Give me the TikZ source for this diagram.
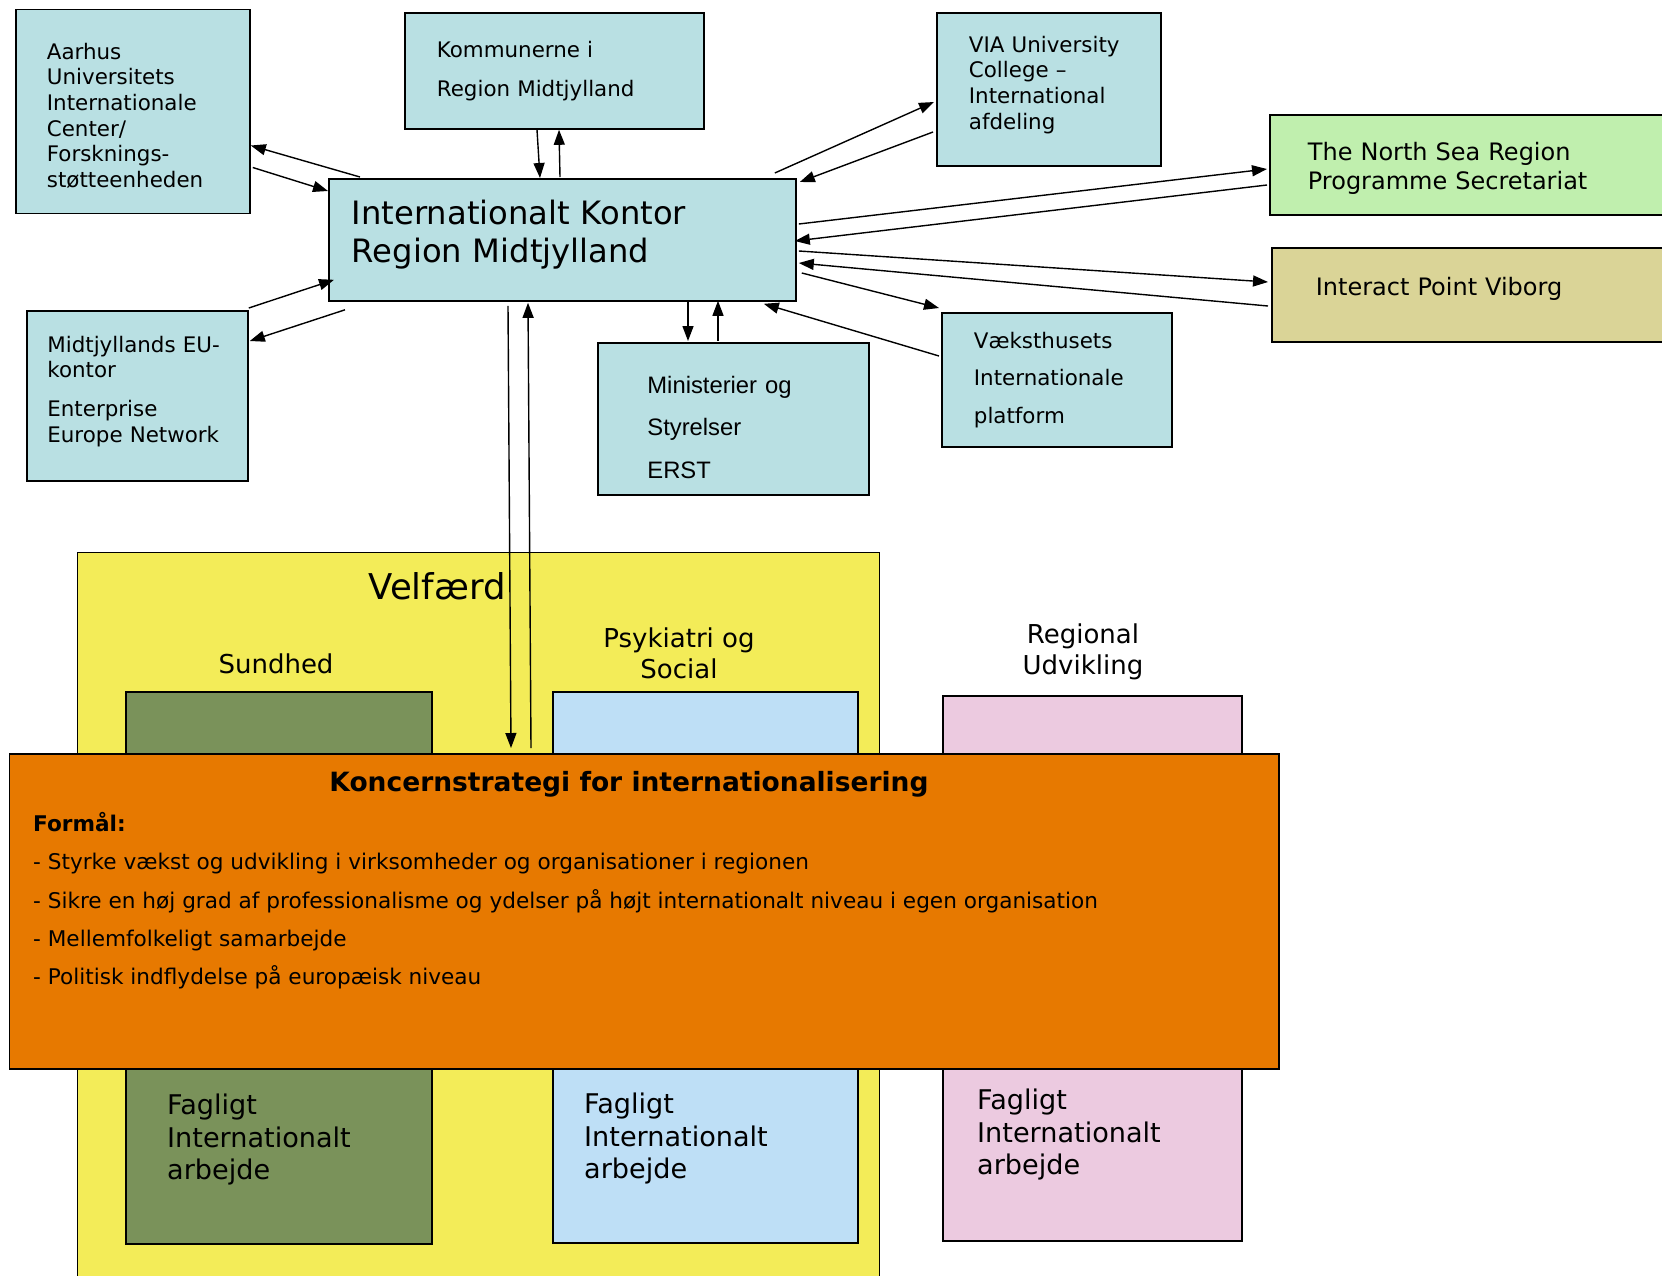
\documentclass[tikz,border=0pt]{standalone}
\usepackage{fontspec}
\setmainfont{DejaVu Sans}
\newfontfamily\arialfont{Liberation Sans}
\usepackage{tikz}
\usepackage{xcolor}
\usetikzlibrary{arrows.meta,calc}
\definecolor{boxblue}{HTML}{B9E0E3}
\definecolor{seagreen}{HTML}{C0EFAE}
\definecolor{interkhaki}{HTML}{DAD497}
\definecolor{velfyellow}{HTML}{F3EC58}
\definecolor{sundgreen}{HTML}{7A925A}
\definecolor{psykblue}{HTML}{BEDFF6}
\definecolor{regpink}{HTML}{ECCAE0}
\definecolor{strategyorange}{HTML}{E77900}
\tikzset{
    plain-box/.style = {draw=black, line width=1.8pt, rectangle, anchor=north west, align=left, inner ysep=0pt},
    info-box/.style = {plain-box, fill=boxblue, font=\fontsize{21.4}{25.7}\selectfont},
    area-box/.style = {plain-box, inner sep=0pt},
    head-text/.style = {align=center, font=\fontsize{26}{31}\selectfont},
    fag-text/.style = {anchor=north west, align=left, inner sep=0pt, font=\fontsize{27.1}{32.3}\selectfont},
    link/.style = {line width=1.4pt, -{Triangle[length=15pt,width=11pt]}},
}
\begin{document}
\begin{tikzpicture}[x=1pt, y=-1pt]
\useasboundingbox (0,0) rectangle (1662,1275);
\clip (0,0) rectangle (1662,1275);

\node[info-box, inner xsep=31pt, text width=172pt, minimum height=204pt] (aarhus) at (15,8.5)
    {\mbox{}\\[-1pt]Aarhus\\Universitets\\Internationale\\Center/\\Forsknings-\\støtteenheden};
\node[info-box, inner xsep=32pt, text width=235pt, minimum height=116pt] (kommune) at (404,12)
    {Kommunerne i\\[13pt]Region Midtjylland};
\node[info-box, inner xsep=32pt, text width=160pt, minimum height=153pt] (via) at (936,12)
    {VIA University\\College --\\International\\afdeling\\[-12.3pt]\mbox{}};
\node[info-box, fill=seagreen, inner xsep=38pt, text width=360pt, minimum height=100pt, font=\fontsize{24}{28.6}\selectfont] (northsea) at (1269,114)
    {\mbox{}\\[-4pt]The North Sea Region\\Programme Secretariat};
\node[info-box, fill=interkhaki, inner xsep=44pt, text width=350pt, minimum height=94pt, font=\fontsize{24}{28.6}\selectfont] (interact) at (1271,247)
    {Interact Point Viborg\\[-12.3pt]\mbox{}};
\node[info-box, inner xsep=23pt, text width=421pt, minimum height=122pt, font=\fontsize{32.2}{38}\selectfont] (ik) at (328,178)
    {Internationalt Kontor\\Region Midtjylland\\[-19.8pt]\mbox{}};
\node[info-box, inner xsep=20.5pt, text width=180pt, minimum height=170pt] (eu) at (26,310)
    {Midtjyllands EU-\\kontor\\[13pt]Enterprise\\Europe Network\\[-12.3pt]\mbox{}};
\node[info-box, inner xsep=49.5pt, text width=172pt, minimum height=152pt, font=\arialfont\fontsize{23.8}{28.8}\selectfont] (minist) at (597,342)
    {\mbox{}\\[5.6pt]Ministerier og\\[14pt]Styrelser\\[14pt]ERST};
\node[info-box, inner xsep=32pt, text width=166pt, minimum height=134pt] (vaekst) at (941,312)
    {Væksthusets\\[12pt]Internationale\\[12pt]platform};

\node[area-box, fill=velfyellow, line width=1.4pt, minimum width=802pt, minimum height=760pt] (velfaerd) at (77,552) {};
\node[area-box, fill=sundgreen, minimum width=306pt, minimum height=552pt] (sundhed) at (125,691) {};
\node[area-box, fill=psykblue, minimum width=305pt, minimum height=551pt] (psyk) at (552,691) {};
\node[area-box, fill=regpink, minimum width=299pt, minimum height=545pt] (regional) at (942,695) {};
\node[font=\fontsize{35.5}{40}\selectfont] at (437,586) {Velfærd};
\node[head-text] at (276,664) {Sundhed};
\node[head-text] at (679,653) {Psykiatri og\\Social};
\node[head-text] at (1083,652) {Regional\\Udvikling};
\node[fag-text] at (167,1094) {Fagligt\\Internationalt\\arbejde};
\node[fag-text] at (584,1093) {Fagligt\\Internationalt\\arbejde};
\node[fag-text] at (977,1089) {Fagligt\\Internationalt\\arbejde};

\node[area-box, fill=strategyorange, minimum width=1269.5pt, minimum height=315pt] (strategi) at (8.5,753) {};
\node[font=\bfseries\fontsize{26.5}{30}\selectfont] at ($(strategi.north west)+(620.5,31)$) {Koncernstrategi for internationalisering};
\node[anchor=north west, align=left, inner sep=0pt, font=\fontsize{21.6}{38.3}\selectfont] at ($(strategi.north west)+(24.5,59)$)
    {\textbf{Formål:}\\- Styrke vækst og udvikling i virksomheder og organisationer i regionen\\- Sikre en høj grad af professionalisme og ydelser på højt internationalt niveau i egen organisation\\- Mellemfolkeligt samarbejde\\- Politisk indflydelse på europæisk niveau};

\draw[link] ($(ik.north west)+(32,-1)$) -- ($(aarhus.north east)+(0,137)$);
\draw[link] ($(aarhus.north east)+(2,159)$) -- ($(ik.north west)+(0,13)$);
\draw[link] ($(kommune.south west)+(133,0)$) -- ($(ik.north west)+(212,0)$);
\draw[link] ($(ik.north west)+(232,-1)$) -- ($(kommune.south west)+(155,0)$);
\draw[link] ($(ik.north east)+(-22,-5)$) -- ($(via.north west)+(-2,90)$);
\draw[link] ($(via.north west)+(-3,120)$) -- ($(ik.north east)+(3,4)$);
\draw[link] ($(ik.north east)+(2,46)$) -- ($(northsea.north west)+(-2,55)$);
\draw[link] ($(northsea.north west)+(-2,71)$) -- ($(ik.north east)+(-2,63)$);
\draw[link] ($(ik.north east)+(2,73)$) -- ($(interact.north west)+(-3,35)$);
\draw[link] ($(interact.north west)+(-3,59)$) -- ($(ik.north east)+(2,85)$);
\draw[link] ($(ik.north east)+(5,95)$) -- ($(vaekst.north west)+(-2,-4)$);
\draw[link] ($(vaekst.north west)+(-2,44)$) -- ($(ik.south east)+(-33,2)$);
\draw[link] ($(ik.south west)+(360,-1)$) -- ($(minist.north west)+(91,-1)$);
\draw[link] ($(minist.north west)+(121,-1)$) -- ($(ik.south west)+(390,-1)$);
\draw[link] ($(eu.north east)+(0,-2)$) -- ($(ik.south west)+(6,-22)$);
\draw[link] ($(ik.south west)+(17,8)$) -- ($(eu.north east)+(1,31)$);
\draw[link] ($(ik.south west)+(180,4)$) -- ($(strategi.north west)+(502.5,-5)$);
\draw[link] ($(strategi.north west)+(522.5,-5)$) -- ($(ik.south west)+(200,1)$);
\end{tikzpicture}
\end{document}
